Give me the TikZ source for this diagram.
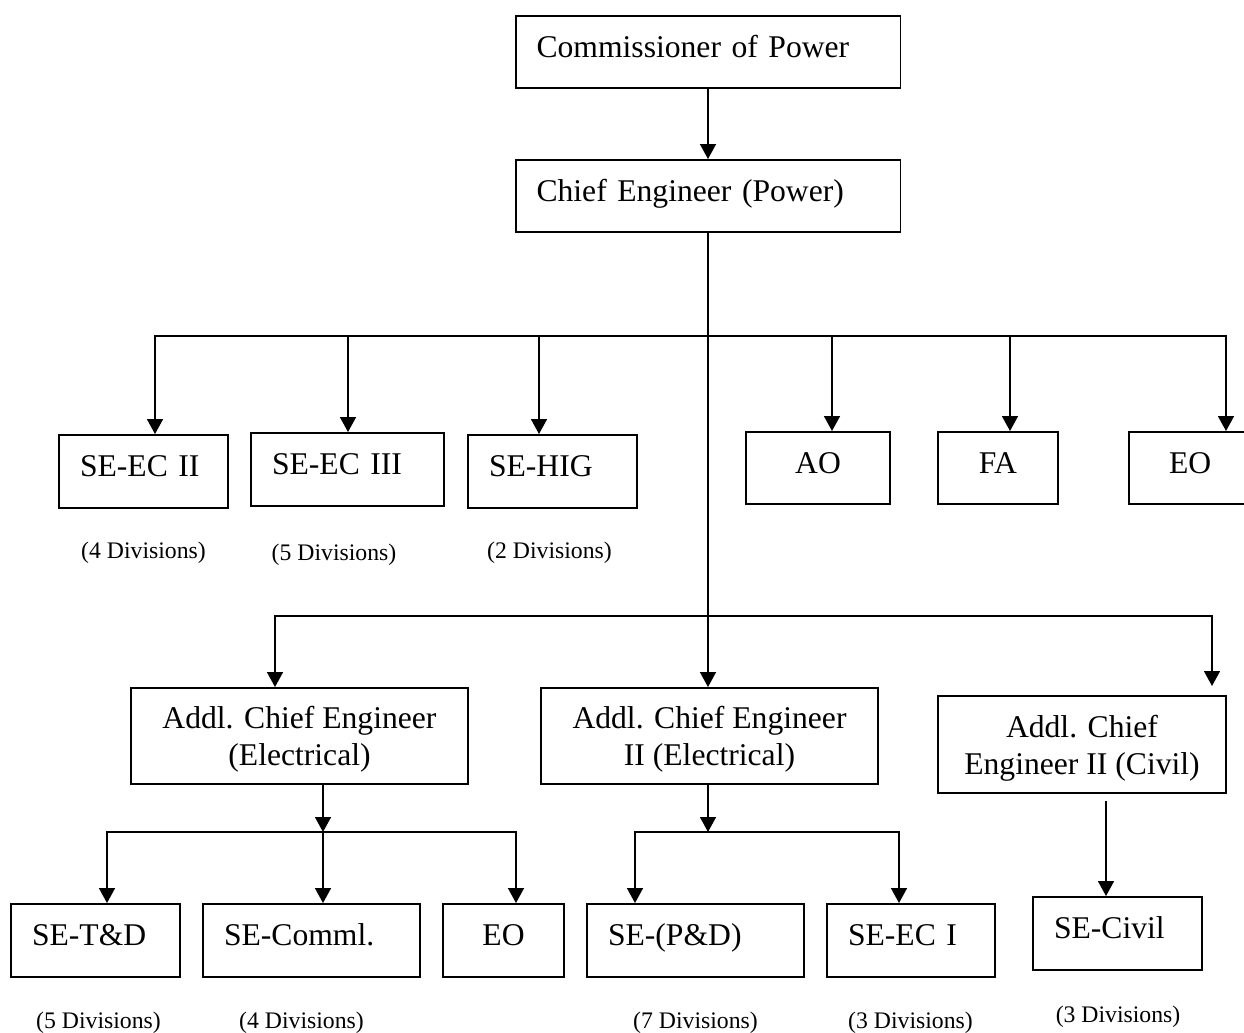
\documentclass[tikz,border=0pt]{standalone}
\usepackage{fontspec}
\setmainfont{Liberation Serif}
\usetikzlibrary{arrows.meta,positioning,calc}

\tikzset{
  post/.style={draw, line width=1.1pt, font=\fontsize{18}{21}\selectfont, inner ysep=0pt,
    minimum height=1.44cm, text height=12.6pt, text depth=6.4pt},
  postl/.style={post, align=left, inner xsep=0.42cm, text width=#1},
  postc/.style={post, align=center, inner xsep=0pt, minimum width=#1},
  twoline/.style={text height=36pt, text depth=2pt},
  divs/.style={font=\fontsize{13.5}{16}\selectfont, inner sep=0pt},
  link/.style={line width=1.1pt, line cap=rect},
  drop/.style={line width=1.1pt, -{Triangle[length=8.5pt,width=9pt]}}
}

\begin{document}
\begin{tikzpicture}[x=0.02cm, y=-0.02cm]
\useasboundingbox (0,0) rectangle (1244,1032);
% Head of the department
\node[postl=6.86cm] (com) at (708,52) {Commissioner of Power};
\node[postl=6.86cm] (ce) at (708,196) {Chief Engineer (Power)};
% First row
\node[postl=2.54cm, minimum height=1.46cm] (seec2) at (143.5,471.5) {SE-EC II};
\node[postl=3.02cm, minimum height=1.46cm] (seec3) at (347.5,469.5) {SE-EC III};
\node[postl=2.54cm, minimum height=1.46cm] (sehig) at (552.5,471.5) {SE-HIG};
\node[postc=2.88cm] (ao) at (818,468) {AO};
\node[postc=2.4cm] (fa) at (998,468) {FA};
\node[postl=1.22cm, inner xsep=0.8cm] (eo1) at (1199.5,468) {EO};
\node[divs] (div1) at (143.5,553) {(4 Divisions)};
\node[divs] (div2) at (334,555) {(5 Divisions)};
\node[divs] (div3) at (549.5,553) {(2 Divisions)};
% Additional chief engineers
\node[postc=6.74cm, minimum height=1.92cm, twoline] (acee) at (299.5,736) {Addl. Chief Engineer\\(Electrical)};
\node[postc=6.74cm, minimum height=1.92cm, twoline] (acee2) at (709.5,736) {Addl. Chief Engineer\\II (Electrical)};
\node[postc=5.76cm, minimum height=1.94cm, twoline] (acec) at (1082,744.5) {Addl. Chief\\Engineer II (Civil)};
% Bottom row
\node[postl=2.54cm, minimum height=1.46cm] (setd) at (95.5,940.5) {SE-T\&D};
\node[postl=3.5cm, minimum height=1.46cm] (secomml) at (311.5,940.5) {SE-Comml.};
\node[postc=2.42cm, minimum height=1.46cm] (eo2) at (503.5,940.5) {EO};
\node[postl=3.5cm, minimum height=1.46cm] (sepd) at (695.5,940.5) {SE-(P\&D)};
\node[postl=2.52cm, minimum height=1.46cm] (seec1) at (911,940.5) {SE-EC I};
\node[postl=2.54cm, minimum height=1.46cm] (secivil) at (1117.5,933.5) {SE-Civil};
\node[divs] (div4) at (98.5,1023) {(5 Divisions)};
\node[divs] (div5) at (301.5,1023) {(4 Divisions)};
\node[divs] (div6) at (695.5,1023) {(7 Divisions)};
\node[divs] (div7) at (910.5,1023) {(3 Divisions)};
\node[divs] (div8) at (1118,1017) {(3 Divisions)};

% Connectors
\draw[drop] (com) -- (ce);
\coordinate (bar2) at (708,616);
\draw[drop] (ce.south) -- (bar2) -- (bar2 |- acee2.north);
\foreach \x/\n in {155/seec2,348/seec3,539/sehig,832/ao,1010/fa,1226/eo1}{
  \coordinate (d\n) at (\x,336);
  \draw[drop] (d\n) -- (d\n |- \n.north);
}
\draw[link] (dseec2) -- (deo1);
\coordinate (m1) at (275,616);
\coordinate (m2) at (1212,616);
\coordinate (m2e) at (1212,686);
\draw[link] (m1) -- (m2);
\draw[drop] (m1) -- (m1 |- acee.north);
\draw[drop] (m2) -- (m2e);
% Under the electrical branches
\coordinate (e1) at (323,832);
\draw[drop] (e1 |- acee.south) -- (e1);
\foreach \x/\n in {107/setd,323/secomml,516/eo2}{
  \coordinate (f\n) at (\x,832);
  \draw[drop] (f\n) -- (f\n |- \n.north);
}
\draw[link] (fsetd) -- (feo2);
\coordinate (e2) at (708,832);
\draw[drop] (e2 |- acee2.south) -- (e2);
\foreach \x/\n in {635/sepd,899/seec1}{
  \coordinate (f\n) at (\x,832);
  \draw[drop] (f\n) -- (f\n |- \n.north);
}
\draw[link] (fsepd) -- (fseec1);
% Civil branch
\coordinate (c1) at (1106,801);
\draw[drop] (c1) -- (c1 |- secivil.north);
\end{tikzpicture}
\end{document}
